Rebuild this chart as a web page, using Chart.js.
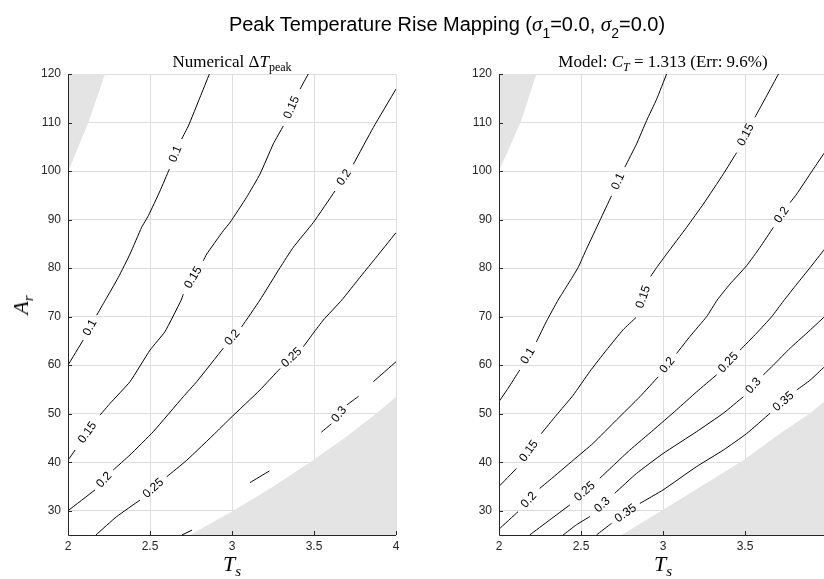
<!DOCTYPE html>
<html>
<head>
<meta charset="utf-8">
<script src="https://cdn.jsdelivr.net/npm/chart.js@4.4.1/dist/chart.umd.min.js"></script>
<style>
  html, body { margin:0; padding:0; width:824px; height:579px; overflow:hidden; background:#fff; }
  canvas { position:absolute; top:0; }
  #cL { left:0; }
  #cR { left:431px; }
  .txt { position:absolute; white-space:nowrap; transform:translateX(-50%); color:#000; }
  .main { font-family:"Liberation Sans", Arial, sans-serif; font-size:20px; line-height:20px; top:14px; left:447px; }
  .main sub { font-size:14px; vertical-align:-7px; line-height:0; }
  .main i { font-family:"Liberation Serif", serif; font-size:21px; }
  .st { font-family:"Liberation Serif", serif; font-size:17px; line-height:17px; top:53px; }
  .st sub { font-size:12px; vertical-align:-4px; line-height:0; }
  .ax { font-family:"Liberation Serif", serif; font-style:italic; font-size:22px; line-height:22px; top:553px; }
  .ax sub { font-size:15px; vertical-align:-5px; line-height:0; }
  .ay { position:absolute; white-space:nowrap; font-family:"Liberation Serif", serif; font-style:italic; font-size:22px; line-height:22px;
        left:21px; top:305px; transform:translate(-50%,-50%) rotate(-90deg); }
  .ay sub { font-size:15px; vertical-align:-5px; line-height:0; }
</style>
</head>
<body>
<canvas id="cL" width="440" height="579"></canvas>
<canvas id="cR" width="440" height="579"></canvas>

<div class="txt main">Peak Temperature Rise Mapping (<i>σ</i><sub>1</sub>=0.0, <i>σ</i><sub>2</sub>=0.0)</div>
<div class="txt st" style="left:232px">Numerical Δ<i>T</i><sub>peak</sub></div>
<div class="txt st" style="left:663px">Model: <i>C</i><sub><i>T</i></sub> = 1.313 (Err: 9.6%)</div>
<div class="txt ax" style="left:232px">T<sub>s</sub></div>
<div class="txt ax" style="left:663px">T<sub>s</sub></div>
<div class="ay">A<sub>r</sub></div>

<script>
// ---------------- data ----------------
const xTicks = [2, 2.5, 3, 3.5, 4];
const yTicks = [30, 40, 50, 60, 70, 80, 90, 100, 110, 120];
const xRange = [2, 4];
const yRange = [25, 120];

// Contours: [Ts, Ar] points; a string marks a labelled break, null a plain break.
// Numerical ΔT_peak
const num010 = [[2.862,120],[2.805,115.2],[2.734,109.3],[2.693,106.6],'0.1',
  [2.618,100.4],[2.561,95.9],[2.490,90.8],[2.449,88.4],[2.378,82.9],[2.307,78.1],[2.226,73.3],[2.175,70.3],'0.1',
  [2.093,65.2],[2.0,60.0]];
const num015 = [[3.465,120],[3.415,116.9],'0.15',
  [3.313,109.3],[3.252,105.6],[3.171,99.4],[3.089,94.6],[2.988,89.4],[2.947,87.7],[2.846,82.9],[2.825,81.5],'0.15',
  [2.703,74.6],[2.69,73.4],[2.591,66.9],[2.5,63.1],[2.378,56.6],[2.256,52.1],[2.195,49.7],'0.15',
  [2.043,42.5],[2.0,40.4]];
const num020 = [[4.0,116.9],[3.862,109.0],[3.740,101.4],'0.2',
  [3.628,95.9],[3.496,89.4],[3.374,84.3],[3.293,80.1],[3.17,73.4],[3.059,67.9],'0.2',
  [2.947,63.5],[2.785,56.6],[2.703,53.5],[2.520,46.3],[2.378,41.5],[2.276,38.4],'0.2',
  [2.165,34.3],[2.0,30.0]];
const num025 = [[4.0,87.3],[3.862,81.5],[3.780,78.1],[3.669,73.4],[3.557,69.3],[3.496,66.6],[3.435,63.8],'0.25',
  [3.293,59.3],[3.171,54.9],[2.988,49.0],[2.907,46.3],[2.724,40.4],[2.602,37.0],'0.25',
  [2.439,32.2],[2.297,28.8],[2.17,25.0]];
const num030 = [[4.0,60.7],[3.862,56.6],null,
  [3.772,53.6],[3.701,51.8],'0.3',
  [3.606,47.9],[3.545,46.2],null,
  [3.228,38.2],[3.110,35.8],null,
  [2.756,26.0],[2.695,25.0]];
const numHoleTop = [[2,100],[2.012,100.8],[2.053,104.2],[2.124,110],[2.226,120]];
const numHoleBottom = [[2.744,25],[3.008,30],[3.252,35],[3.476,40],[3.699,45.3],[3.882,50.1],[4,53.5]];

// Model C_T = 1.313
const mod010 = [[3.022,120],[2.961,114.8],[2.900,110.4],[2.839,105.6],[2.767,100.8],'0.1',
  [2.686,94.9],[2.615,89.8],[2.533,83.9],[2.482,80.1],[2.421,76.7],[2.360,73.4],[2.289,69.0],[2.228,64.8],'0.1',
  [2.126,59.0],[2.055,55.2],[2.0,52.5]];
const mod015 = [[3.704,120],[3.632,115.5],[3.561,111.1],'0.15',
  [3.449,103.8],[3.368,99.4],[3.246,93.2],[3.144,88.4],[3.022,82.9],[2.961,80.1],[2.925,78.3],'0.15',
  [2.835,69.8],[2.757,67.3],[2.655,63.1],[2.554,58.7],[2.452,53.8],[2.350,49.7],[2.258,45.9],'0.15',
  [2.106,38.7],[2.0,35.0]];
const mod020 = [[4.0,104.5],[3.985,103.8],[3.897,99.4],[3.816,95.3],[3.775,93.5],'0.2',
  [3.673,88.4],[3.592,84.3],[3.510,80.5],[3.408,76.7],[3.33,73.4],[3.266,70.0],[3.164,65.9],[3.083,62.4],'0.2',
  [2.971,57.6],[2.859,53.5],[2.716,48.7],[2.574,43.9],[2.452,40.4],[2.309,36.3],[2.248,34.6],'0.2',
  [2.116,29.8],[2.0,26.2]];
const mod025 = [[4.0,84.5],[3.985,83.9],[3.897,80.1],[3.816,76.7],[3.734,73.2],[3.663,70.0],[3.571,66.6],[3.470,63.1],'0.25',
  [3.327,58.0],[3.205,54.5],[3.083,50.8],[2.940,46.6],[2.798,42.5],[2.706,39.6],[2.615,36.7],'0.25',
  [2.432,31.2],[2.309,28.1],[2.187,25.0]];
const mod030 = [[4.0,70.5],[3.985,70.0],[3.877,66.6],[3.775,63.5],[3.673,60.0],[3.612,58.0],'0.3',
  [3.490,53.5],[3.368,50.1],[3.205,46.3],[3.001,41.8],[2.839,37.7],[2.706,33.6],'0.3',
  [2.554,28.8],[2.472,27.1],[2.391,25.0]];
const mod035 = [[4.0,60.2],[3.985,59.7],[3.897,56.9],[3.816,54.9],'0.35',
  [3.653,50.1],[3.510,45.9],[3.368,42.5],[3.205,39.1],[3.001,34.3],[2.859,31.5],'0.35',
  [2.686,27.4],[2.594,25.0]];
const modHoleTop = [[2,100],[2.014,101.1],[2.055,104.2],[2.136,110.4],[2.228,120]];
const modHoleBottom = [[2.747,25],[3.001,30.2],[3.246,35.3],[3.490,40.4],[3.714,45.9],[3.897,50.1],[4,53]];

// ---------------- helpers ----------------
function segmentsOf(c) {
  const segs = [[]];
  c.forEach(p => {
    if (Array.isArray(p)) segs[segs.length - 1].push({x: p[0], y: p[1]});
    else segs.push([]);
  });
  return segs.filter(s => s.length > 1);
}
function labelsOf(c) {
  const out = [];
  c.forEach((p, i) => { if (typeof p === 'string') out.push({text: p, a: c[i - 1], b: c[i + 1]}); });
  return out;
}

const AXIS_COLOR = '#262626';
const TICK_FONT = {family: '"Liberation Sans", Arial, sans-serif', size: 12};

const decor = {
  id: 'decor',
  afterDatasetsDraw(chart, args, opts) {
    const {ctx, chartArea: a, scales: {x, y}} = chart;
    ctx.save();
    // axis lines + inward ticks
    ctx.strokeStyle = AXIS_COLOR;
    ctx.lineWidth = 1;
    ctx.beginPath();
    ctx.moveTo(a.left + 0.5, a.top);
    ctx.lineTo(a.left + 0.5, a.bottom + 0.5);
    ctx.lineTo(a.right, a.bottom + 0.5);
    xTicks.forEach(v => {
      const p = Math.round(x.getPixelForValue(v)) + 0.5;
      ctx.moveTo(p, a.bottom); ctx.lineTo(p, a.bottom - 4);
    });
    yTicks.forEach(v => {
      const p = Math.round(y.getPixelForValue(v)) + 0.5;
      ctx.moveTo(a.left, p); ctx.lineTo(a.left + 4, p);
    });
    ctx.stroke();
    // contour labels
    ctx.fillStyle = '#000';
    ctx.font = '12px "Liberation Sans", Arial, sans-serif';
    ctx.textAlign = 'center';
    ctx.textBaseline = 'middle';
    (opts.contours || []).forEach(c => labelsOf(c).forEach(l => {
      const ax = x.getPixelForValue(l.a[0]), ay = y.getPixelForValue(l.a[1]);
      const bx = x.getPixelForValue(l.b[0]), by = y.getPixelForValue(l.b[1]);
      let ang = Math.atan2(by - ay, bx - ax);
      if (ang > Math.PI / 2) ang -= Math.PI;
      if (ang < -Math.PI / 2) ang += Math.PI;
      ctx.save();
      ctx.translate((ax + bx) / 2, (ay + by) / 2);
      ctx.rotate(ang);
      ctx.fillText(l.text, 0, 0);
      ctx.restore();
    }));
    ctx.restore();
  }
};

function makeChart(id, contours, holeTop, holeBottom) {
  const ds = [];
  contours.forEach(c => segmentsOf(c).forEach(s => ds.push({
    data: s, borderColor: '#000', borderWidth: 1, pointRadius: 0, fill: false, tension: 0.15
  })));
  ds.push({data: holeTop.map(p => ({x: p[0], y: p[1]})), fill: 'end',
    backgroundColor: '#e4e4e4', borderColor: 'rgba(0,0,0,0)', borderWidth: 0, pointRadius: 0, tension: 0});
  ds.push({data: holeBottom.map(p => ({x: p[0], y: p[1]})), fill: 'start',
    backgroundColor: '#e4e4e4', borderColor: 'rgba(0,0,0,0)', borderWidth: 0, pointRadius: 0, tension: 0});

  return new Chart(document.getElementById(id), {
    type: 'line',
    data: {datasets: ds},
    options: {
      responsive: false, animation: false, devicePixelRatio: 1, events: [],
      layout: {padding: {top: 74, right: 44, left: 0, bottom: 0}},
      plugins: {legend: {display: false}, tooltip: {enabled: false}, title: {display: false},
                decor: {contours: contours}},
      scales: {
        x: {
          type: 'linear', min: xRange[0], max: xRange[1],
          afterBuildTicks: s => { s.ticks = xTicks.map(v => ({value: v})); },
          afterFit: s => { s.height = 44; },
          grid: {color: '#dedede', drawTicks: false, lineWidth: 1},
          border: {display: false},
          ticks: {padding: 4, color: AXIS_COLOR, font: TICK_FONT, maxRotation: 0, autoSkip: false,
                  callback: v => String(v)}
        },
        y: {
          type: 'linear', min: yRange[0], max: yRange[1],
          afterBuildTicks: s => { s.ticks = yTicks.map(v => ({value: v})); },
          afterFit: s => { s.width = 68; },
          grid: {color: '#dedede', drawTicks: false, lineWidth: 1},
          border: {display: false},
          ticks: {padding: 7, color: AXIS_COLOR, font: TICK_FONT, autoSkip: false,
                  callback: v => String(v)}
        }
      }
    },
    plugins: [decor]
  });
}

makeChart('cL', [num010, num015, num020, num025, num030], numHoleTop, numHoleBottom);
makeChart('cR', [mod010, mod015, mod020, mod025, mod030, mod035], modHoleTop, modHoleBottom);
</script>
</body>
</html>
